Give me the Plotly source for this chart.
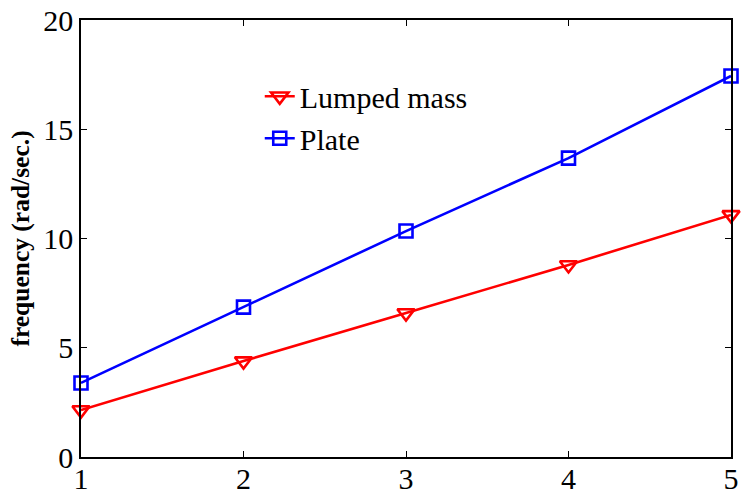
import plotly.graph_objects as go

x_vals = [1, 2, 3, 4, 5]
lumped_mass = [2.15, 4.39, 6.59, 8.79, 11.08]
plate = [3.39, 6.86, 10.34, 13.68, 17.44]
x_ticks = [1, 2, 3, 4, 5]
y_ticks = [0, 5, 10, 15, 20]

fig = go.Figure()
fig.add_trace(go.Scatter(
    x=x_vals, y=lumped_mass, mode="lines+markers", name="Lumped mass",
    line=dict(color="#ff0000", width=2.6),
    marker=dict(symbol="triangle-down-open", size=15, color="#ff0000", line=dict(width=2.6)),
    cliponaxis=False,
))
fig.add_trace(go.Scatter(
    x=x_vals, y=plate, mode="lines+markers", name="Plate",
    line=dict(color="#0000ff", width=2.6),
    marker=dict(symbol="square-open", size=13, color="#0000ff", line=dict(width=2.6)),
    cliponaxis=False,
))

font_family = "Liberation Serif, Times New Roman, serif"
fig.update_layout(
    width=743, height=498,
    margin=dict(l=81, r=12, t=20, b=41),
    paper_bgcolor="white", plot_bgcolor="white",
    font=dict(family=font_family, size=30, color="black"),
    showlegend=True,
    legend=dict(x=0.275, y=0.885, xanchor="left", yanchor="top",
                bgcolor="rgba(0,0,0,0)", borderwidth=0,
                font=dict(size=30, family=font_family),
                tracegroupgap=4, itemwidth=30),
    xaxis=dict(range=[1, 5], tickvals=x_ticks, ticks="inside", ticklen=6,
               tickcolor="black", showline=True, linecolor="black", linewidth=1.5,
               mirror="ticks", showgrid=False, zeroline=False, automargin=False,
               ticklabelstandoff=-6,
               tickfont=dict(size=30, family=font_family)),
    yaxis=dict(range=[0, 20], tickvals=y_ticks, ticks="inside", ticklen=6,
               tickcolor="black", showline=True, linecolor="black", linewidth=1.5,
               mirror="ticks", showgrid=False, zeroline=False, automargin=False,
               tickfont=dict(size=30, family=font_family),
               title=dict(text="<b>frequency (rad/sec.)</b>", standoff=6,
                          font=dict(size=25.5, family=font_family))),
)

fig.write_html("out.html")
